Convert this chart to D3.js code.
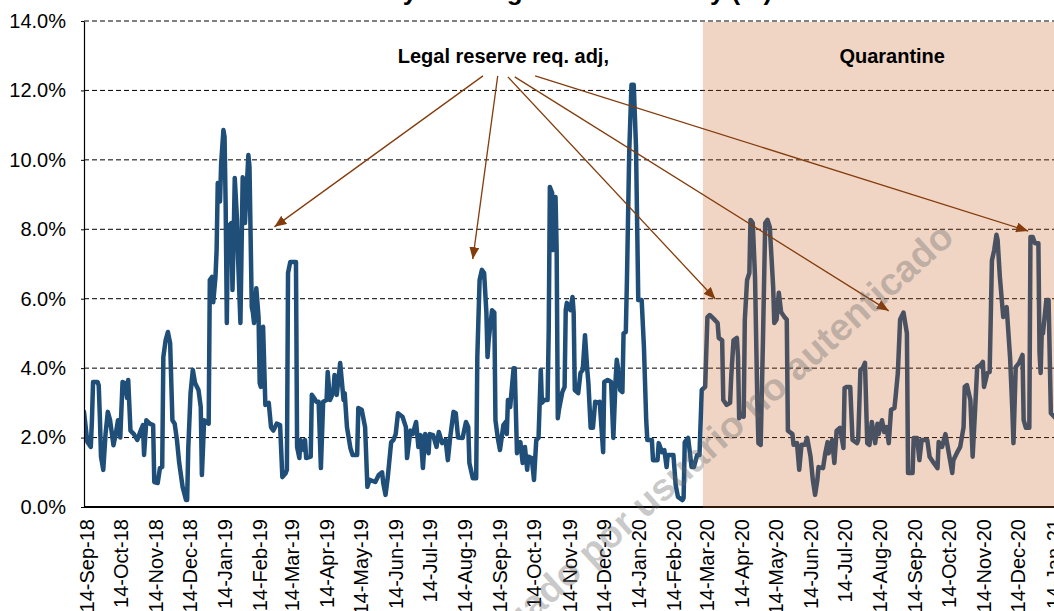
<!DOCTYPE html>
<html>
<head>
<meta charset="utf-8">
<script src="https://cdn.jsdelivr.net/npm/d3@7"></script>
<style>
  html, body { margin: 0; padding: 0; background: #fff; }
  svg { display: block; font-family: "Liberation Sans", Arial, sans-serif; }
</style>
</head>
<body>
<div class="root"></div>
<script>
// daily series: days counted from 14-Sep-18, rate in %
var startDay = "2018-09-14";
var obsDay = [
  -2, 1, 4, 5, 6, 10, 11, 12, 13, 15,
  17, 19, 21, 24, 26, 28, 30, 32, 34, 36,
  37, 39, 42, 45, 48, 50, 51, 53, 56, 59,
  60, 63, 65, 67, 68, 70, 72, 74, 76, 78,
  80, 82, 85, 88, 89, 90, 92, 94, 96, 99,
  101, 102, 104, 108, 109, 111, 112, 114, 115, 116,
  118, 119, 121, 122, 123, 124, 125, 128, 129, 130,
  131, 133, 134, 136, 138, 139, 140, 143, 144, 146,
  147, 148, 150, 152, 153, 154, 156, 158, 161, 163,
  165, 168, 171, 173, 176, 177, 178, 180, 185, 186,
  188, 189, 192, 193, 194, 198, 199, 201, 203, 205,
  207, 209, 212, 213, 215, 218, 219, 221, 224, 227,
  228, 230, 233, 235, 239, 240, 243, 246, 248, 250,
  255, 258, 261, 262, 264, 266, 269, 271, 273, 275,
  279, 282, 283, 286, 288, 291, 293, 295, 297, 299,
  302, 303, 306, 309, 311, 314, 317, 319, 321, 324,
  326, 328, 332, 335, 337, 338, 341, 344, 345, 347,
  349, 351, 353, 354, 355, 358, 360, 361, 363, 365,
  368, 370, 371, 372, 374, 377, 378, 380, 383, 385,
  387, 389, 390, 393, 395, 397, 399, 401, 402, 404,
  407, 408, 409, 411, 412, 414, 415, 416, 417, 420,
  422, 423, 424, 427, 429, 430, 431, 434, 436, 438,
  440, 442, 443, 445, 447, 449, 451, 453, 456, 457,
  460, 463, 465, 467, 468, 469, 471, 473, 474, 476,
  477, 479, 481, 483, 485, 487, 490, 492, 494, 495,
  499, 500, 504, 505, 508, 510, 512, 513, 518, 520,
  522, 526, 527, 528, 531, 534, 536, 539, 541, 543,
  546, 548, 550, 553, 557, 558, 561, 562, 565, 568,
  569, 571, 574, 575, 576, 579, 580, 581, 583, 585,
  586, 588, 590, 592, 593, 595, 597, 599, 601, 603,
  606, 607, 609, 611, 613, 616, 618, 619, 623, 624,
  627, 629, 631, 634, 636, 639, 641, 643, 645, 646,
  650, 652, 654, 655, 658, 660, 662, 665, 668, 669,
  671, 674, 676, 680, 681, 683, 685, 687, 689, 691,
  693, 696, 698, 699, 702, 704, 706, 708, 710, 713,
  714, 716, 718, 721, 722, 724, 725, 729, 730, 733,
  735, 737, 742, 744, 747, 751, 752, 755, 758, 760,
  764, 765, 768, 771, 774, 775, 777, 780, 782, 784,
  786, 789, 791, 792, 795, 797, 799, 801, 803, 804,
  806, 809, 812, 815, 817, 818, 820, 823, 826, 827,
  829, 832, 833, 835, 837, 840, 841, 842, 843, 844,
  847, 849, 851, 854, 857
];
var obsRate = [
  2.74, 1.87, 1.73, 2.5, 3.6, 3.6, 3.5, 2.6, 1.45, 1.07,
  2.1, 2.74, 2.5, 1.78, 2.1, 2.5, 2.0, 3.6, 3.57, 3.14,
  3.66, 2.2, 2.1, 1.93, 2.2, 2.36, 1.5, 2.5, 2.4, 2.36,
  0.72, 0.69, 1.12, 1.15, 4.32, 4.8, 5.04, 4.72, 2.5, 2.4,
  1.93, 1.27, 0.58, 0.2, 0.2, 1.7, 3.28, 3.95, 3.57, 3.37,
  2.88, 0.92, 2.5, 2.4, 6.54, 6.63, 5.9, 6.63, 7.4, 9.33,
  8.8, 9.9, 10.86, 10.66, 8.64, 5.3, 8.07, 8.18, 6.25, 7.7,
  9.48, 8.27, 7.1, 5.3, 9.5, 9.4, 8.18, 10.14, 9.8, 5.76,
  5.6, 5.3, 6.3, 5.47, 3.57, 3.46, 5.19, 2.94, 3.0, 2.3,
  2.2, 2.4, 2.36, 0.86, 0.98, 1.07, 6.74, 7.06, 7.06, 1.73,
  1.41, 1.93, 1.64, 1.93, 1.41, 1.45, 3.23, 3.14, 3.03, 3.03,
  1.12, 3.03, 3.08, 3.89, 3.08, 3.31, 3.8, 3.23, 4.15, 3.08,
  3.28, 2.3, 1.7, 1.5, 1.5, 2.85, 2.8, 2.3, 0.58, 0.78,
  0.72, 0.92, 1.0, 0.69, 0.35, 0.86, 1.87, 1.93, 2.1, 2.7,
  2.6, 2.3, 1.41, 2.2, 2.1, 2.45, 1.73, 2.07, 1.12, 2.1,
  1.55, 2.1, 2.07, 1.73, 2.16, 1.84, 1.93, 1.35, 1.99, 2.74,
  2.7, 2.0, 1.99, 2.45, 2.3, 1.27, 0.83, 0.83, 4.32, 6.54,
  6.83, 6.74, 5.6, 4.32, 4.8, 5.67, 5.6, 2.5, 2.0, 1.64,
  2.36, 2.45, 2.1, 3.08, 2.88, 4.0, 4.0, 1.55, 1.87, 1.27,
  1.73, 1.07, 1.45, 1.41, 0.78, 1.93, 1.99, 3.95, 3.0, 3.08,
  3.08, 5.1, 9.22, 9.05, 7.4, 8.93, 7.4, 2.56, 2.8, 3.31,
  3.46, 5.67, 5.88, 5.67, 6.05, 5.6, 3.37, 3.28, 3.86, 3.95,
  4.95, 3.95, 3.57, 2.28, 2.28, 3.03, 3.0, 3.03, 1.58, 3.6,
  3.66, 3.6, 1.99, 3.66, 4.24, 4.03, 3.37, 3.31, 5.0, 5.04,
  6.54, 10.2, 12.16, 12.16, 10.37, 5.96, 5.96, 4.6, 2.5, 1.93,
  1.93, 1.35, 1.35, 1.84, 1.58, 1.64, 1.15, 1.5, 1.5, 0.63,
  0.29, 0.2, 0.26, 1.87, 1.99, 1.15, 1.15, 1.5, 1.5, 3.37,
  3.46, 5.47, 5.53, 5.44, 5.3, 4.87, 4.8, 3.08, 2.94, 3.0,
  3.75, 4.8, 4.87, 4.32, 2.56, 2.7, 2.6, 5.4, 6.54, 6.74,
  8.27, 8.18, 6.63, 3.08, 1.84, 1.79, 4.8, 8.18, 8.27, 8.07,
  6.34, 5.3, 5.4, 6.17, 5.62, 5.47, 5.4, 2.2, 2.1, 1.79,
  1.84, 1.07, 1.79, 1.79, 1.99, 1.45, 0.78, 0.35, 0.78, 1.15,
  1.12, 1.55, 1.87, 1.55, 1.93, 1.27, 2.2, 2.28, 1.7, 3.43,
  3.46, 3.46, 1.93, 1.84, 1.93, 3.95, 4.0, 4.15, 1.84, 1.79,
  2.45, 1.84, 2.4, 2.1, 2.5, 2.16, 2.3, 1.84, 2.8, 2.85,
  3.17, 3.86, 5.4, 5.6, 5.4, 5.0, 0.98, 0.98, 1.99, 1.99,
  1.35, 1.93, 1.93, 1.45, 1.3, 1.12, 1.87, 1.73, 2.1, 1.73,
  0.98, 1.35, 1.55, 1.73, 2.3, 3.46, 3.51, 3.08, 1.45, 2.7,
  4.03, 4.09, 4.18, 3.46, 3.86, 3.89, 7.1, 7.4, 7.84, 7.7,
  6.63, 5.47, 5.76, 4.32, 2.8, 1.84, 4.03, 4.15, 4.38, 2.5,
  2.28, 2.28, 7.78, 7.78, 7.6, 7.6, 4.44, 3.86, 5.1, 5.0,
  5.96, 5.96, 2.7, 2.6, 2.5
];

var tickDates = ["2018-09-14", "2018-10-14", "2018-11-14", "2018-12-14", "2019-01-14",
  "2019-02-14", "2019-03-14", "2019-04-14", "2019-05-14", "2019-06-14", "2019-07-14",
  "2019-08-14", "2019-09-14", "2019-10-14", "2019-11-14", "2019-12-14", "2020-01-14",
  "2020-02-14", "2020-03-14", "2020-04-14", "2020-05-14", "2020-06-14", "2020-07-14",
  "2020-08-14", "2020-09-14", "2020-10-14", "2020-11-14", "2020-12-14", "2021-01-14"];
var yTicks = [0, 2, 4, 6, 8, 10, 12, 14];

var quarantineStartDay = 544;
// legal reserve requirement adjustments: [fromDay, fromRate, toDay, toRate]
var reserveArrows = [
  [350, 12.42, 166, 8.07],
  [363, 12.42, 341, 7.14],
  [372, 12.39, 555, 5.99],
  [378, 12.39, 708, 5.65],
  [396, 12.42, 831, 7.95]
];
var reserveLabel = {day: 368, rate: 12.79, text: "Legal reserve req. adj,"};
var quarantineLabel = {day: 711, rate: 12.79, text: "Quarantine"};

var titleText = "Daily Overnight Rate Volatility (%)";
var watermarkText = "Descargado por usuario no autenticado";

var width = 1054,
    height = 611,
    plot = {left: 84, top: 21, right: 1069, bottom: 507},
    lineColor = "#1f4e79",
    arrowColor = "#843c0c";

var t0 = d3.timeParse("%Y-%m-%d")(startDay);
var dayToDate = function(n) { return d3.timeDay.offset(t0, n); };
var parse = d3.timeParse("%Y-%m-%d");

var series = obsDay.map(function(d, i) { return {date: dayToDate(d), v: obsRate[i]}; });

var x = d3.scaleTime()
    .domain([dayToDate(-2), dayToDate(867)])
    .range([plot.left, plot.right]);

var y = d3.scaleLinear()
    .domain([0, 14])
    .range([plot.bottom, plot.top]);

var svg = d3.select(".root")
    .append("svg")
    .attr("width", width)
    .attr("height", height);

var defs = svg.append("defs");
defs.append("clipPath").attr("id", "plotClip")
  .append("rect")
    .attr("x", plot.left).attr("y", plot.top - 10)
    .attr("width", plot.right - plot.left).attr("height", plot.bottom - plot.top + 10);

defs.append("marker")
    .attr("id", "arrowHead")
    .attr("viewBox", "0 0 12 10")
    .attr("refX", 12).attr("refY", 5)
    .attr("markerWidth", 12).attr("markerHeight", 10)
    .attr("markerUnits", "userSpaceOnUse")
    .attr("orient", "auto")
  .append("path")
    .attr("d", "M0,0L12,5L0,10Z")
    .attr("fill", arrowColor);

// dashed gridlines
svg.append("g")
  .selectAll("line")
  .data(yTicks.filter(function(d) { return d > 0; }))
  .enter().append("line")
    .attr("x1", plot.left).attr("x2", plot.right)
    .attr("y1", function(d) { return y(d); })
    .attr("y2", function(d) { return y(d); })
    .attr("stroke", "#000")
    .attr("stroke-width", 1)
    .attr("stroke-dasharray", "5,3");

// the series
var line = d3.line()
    .x(function(d) { return x(d.date); })
    .y(function(d) { return y(d.v); });

svg.append("path")
    .datum(series)
    .attr("clip-path", "url(#plotClip)")
    .attr("d", line)
    .attr("fill", "none")
    .attr("stroke", lineColor)
    .attr("stroke-width", 4.5)
    .attr("stroke-linejoin", "round")
    .attr("stroke-linecap", "round");

// y axis
var yAxis = svg.append("g")
    .attr("transform", "translate(" + plot.left + ",0)")
    .call(d3.axisLeft(y)
      .tickValues(yTicks)
      .tickSize(3)
      .tickSizeOuter(0)
      .tickPadding(15)
      .tickFormat(function(d) { return d3.format(".1f")(d) + "%"; }));
yAxis.select(".domain").attr("stroke", "#000").attr("stroke-width", 1.2);
yAxis.selectAll("text").attr("font-size", 20).attr("fill", "#000")
    .attr("font-family", "'Liberation Sans', Arial, sans-serif");

// x axis
var xAxis = svg.append("g")
    .attr("transform", "translate(0," + plot.bottom + ")")
    .call(d3.axisBottom(x)
      .tickValues(tickDates.map(parse))
      .tickSize(0)
      .tickFormat(d3.timeFormat("%d-%b-%y")));
xAxis.select(".domain").remove();
xAxis.selectAll("text")
    .attr("transform", "rotate(-90)")
    .attr("text-anchor", "end")
    .attr("x", -12)
    .attr("y", 0)
    .attr("dy", "0.35em")
    .attr("font-size", 20)
    .attr("fill", "#000")
    .attr("font-family", "'Liberation Sans', Arial, sans-serif");

svg.append("line")
    .attr("x1", plot.left).attr("x2", plot.right)
    .attr("y1", plot.bottom).attr("y2", plot.bottom)
    .attr("stroke", "#000")
    .attr("stroke-width", 2);

// quarantine period, a see-through overlay
svg.append("rect")
    .attr("x", x(dayToDate(quarantineStartDay)))
    .attr("y", plot.top + 1)
    .attr("width", plot.right - x(dayToDate(quarantineStartDay)))
    .attr("height", plot.bottom - plot.top)
    .attr("fill", "#c55d1b")
    .attr("fill-opacity", 0.26);

// annotations
svg.append("g")
  .selectAll("line")
  .data(reserveArrows)
  .enter().append("line")
    .attr("x1", function(d) { return x(dayToDate(d[0])); })
    .attr("y1", function(d) { return y(d[1]); })
    .attr("x2", function(d) { return x(dayToDate(d[2])); })
    .attr("y2", function(d) { return y(d[3]); })
    .attr("stroke", arrowColor)
    .attr("stroke-width", 1.3)
    .attr("marker-end", "url(#arrowHead)");

[reserveLabel, quarantineLabel].forEach(function(l) {
  svg.append("text")
      .attr("x", x(dayToDate(l.day)))
      .attr("y", y(l.rate))
      .attr("text-anchor", "middle")
      .attr("font-size", 20)
      .attr("font-weight", "bold")
      .attr("fill", "#000")
      .text(l.text);
});

// title, cut off at the top: only the descenders show
svg.append("text")
    .attr("x", 355)
    .attr("y", 0)
    .attr("font-size", 26)
    .attr("font-weight", "bold")
    .attr("fill", "#000")
    .text(titleText);

// watermark
svg.append("text")
    .attr("transform", "translate(956,240) rotate(-42)")
    .attr("text-anchor", "end")
    .attr("font-size", 38)
    .attr("font-weight", "bold")
    .attr("fill", "#646464")
    .attr("fill-opacity", 0.35)
    .text(watermarkText);
</script>
</body>
</html>
